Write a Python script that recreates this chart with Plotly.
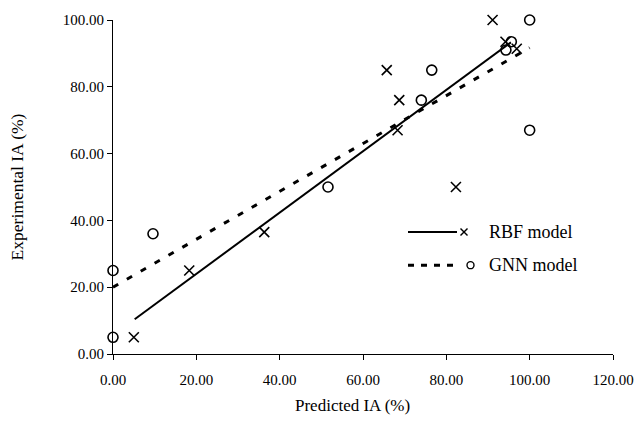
import plotly.graph_objects as go

# ---- data ----
rbf_pred = [5.0, 18.3, 36.3, 65.7, 68.7, 68.3, 82.3, 91.1, 94.2, 96.9]
rbf_exp = [5.0, 25.0, 36.5, 85.0, 76.0, 67.0, 50.0, 100.0, 93.5, 91.4]

gnn_pred = [0.0, 0.0, 9.6, 51.6, 74.0, 76.5, 94.3, 95.6, 100.0, 100.0]
gnn_exp = [5.0, 25.0, 36.0, 50.0, 76.0, 85.0, 91.0, 93.5, 100.0, 67.0]

rbf_fit_x = [5.2, 95.5]
rbf_fit_y = [10.4, 93.3]
gnn_fit_x = [0.0, 100.0]
gnn_fit_y = [20.0, 91.7]

x_ticks = [0, 20, 40, 60, 80, 100, 120]
y_ticks = [0, 20, 40, 60, 80, 100]
legend_labels = ["RBF model", "GNN model"]
x_title = "Predicted IA (%)"
y_title = "Experimental IA (%)"

FONT = "Liberation Serif"

fig = go.Figure()

fig.add_trace(go.Scatter(x=rbf_fit_x, y=rbf_fit_y, mode="lines",
                         line=dict(color="black", width=2), showlegend=False,
                         cliponaxis=False))
fig.add_trace(go.Scatter(x=gnn_fit_x, y=gnn_fit_y, mode="lines",
                         line=dict(color="black", width=3, dash="6px,10px"),
                         showlegend=False, cliponaxis=False))
fig.add_trace(go.Scatter(x=rbf_pred, y=rbf_exp, mode="markers", name=legend_labels[0],
                         marker=dict(symbol="x-thin-open", size=10, color="black",
                                     line=dict(color="black", width=1.6)),
                         showlegend=False, cliponaxis=False))
fig.add_trace(go.Scatter(x=gnn_pred, y=gnn_exp, mode="markers", name=legend_labels[1],
                         marker=dict(symbol="circle-open", size=10, color="black",
                                     line=dict(color="black", width=1.6)),
                         showlegend=False, cliponaxis=False))

# ---- hand-drawn legend (line, then marker, then text) ----
leg_x0, leg_x1 = 0.59, 0.688
leg_rows_y = [0.365, 0.266]
shapes = [
    dict(type="line", xref="paper", yref="paper", x0=leg_x0, x1=leg_x1,
         y0=leg_rows_y[0], y1=leg_rows_y[0], line=dict(color="black", width=2)),
    dict(type="line", xref="paper", yref="paper", x0=leg_x0, x1=leg_x1,
         y0=leg_rows_y[1], y1=leg_rows_y[1], line=dict(color="black", width=3, dash="6px,7px")),
]
mx = 0.702
for s in (1, -1):
    shapes.append(dict(type="line", xref="paper", yref="paper",
                       xsizemode="pixel", ysizemode="pixel", xanchor=mx, yanchor=leg_rows_y[0],
                       x0=-3.5, x1=3.5, y0=-3.5 * s, y1=3.5 * s,
                       line=dict(color="black", width=1.4)))
shapes.append(dict(type="circle", xref="paper", yref="paper",
                   xsizemode="pixel", ysizemode="pixel", xanchor=0.715, yanchor=leg_rows_y[1],
                   x0=-3.5, x1=3.5, y0=-3.5, y1=3.5,
                   line=dict(color="black", width=1.4)))

annotations = [
    dict(text=legend_labels[i], xref="paper", yref="paper", x=0.748, y=leg_rows_y[i],
         xanchor="left", yanchor="middle", showarrow=False,
         font=dict(family=FONT, size=18, color="black"))
    for i in range(2)
]
# x-axis title (slightly left of the plot centre, as in the reference)
annotations.append(dict(text=x_title, xref="paper", yref="paper", x=0.478, y=-0.153,
                        xanchor="center", yanchor="middle", showarrow=False,
                        font=dict(family=FONT, size=17, color="black")))

fig.update_layout(
    width=638, height=425,
    margin=dict(l=113, r=25, t=20, b=71),
    paper_bgcolor="white", plot_bgcolor="white",
    font=dict(family=FONT, size=15, color="black"),
    shapes=shapes, annotations=annotations,
    showlegend=False,
)
fig.update_xaxes(range=[0, 120], tickvals=x_ticks, tickformat=".2f", automargin=False,
                 showgrid=False, zeroline=False, showline=True, linecolor="black", linewidth=1,
                 ticks="outside", ticklen=5, tickcolor="black", ticklabelstandoff=7,
                 tickfont=dict(family=FONT, size=15))
fig.update_yaxes(range=[0, 100], tickvals=y_ticks, tickformat=".2f", automargin=False,
                 showgrid=False, zeroline=False, showline=True, linecolor="black", linewidth=1,
                 ticks="outside", ticklen=5, tickcolor="black",
                 tickfont=dict(family=FONT, size=15),
                 title=dict(text=y_title, font=dict(family=FONT, size=17.5), standoff=34))

# remove the browser's default 8px page margin so the 638x425 figure fills the window exactly
fig.write_html("out.html",
               config={"displayModeBar": False},
               post_script="document.body.style.margin='0';document.body.style.overflow='hidden';")
